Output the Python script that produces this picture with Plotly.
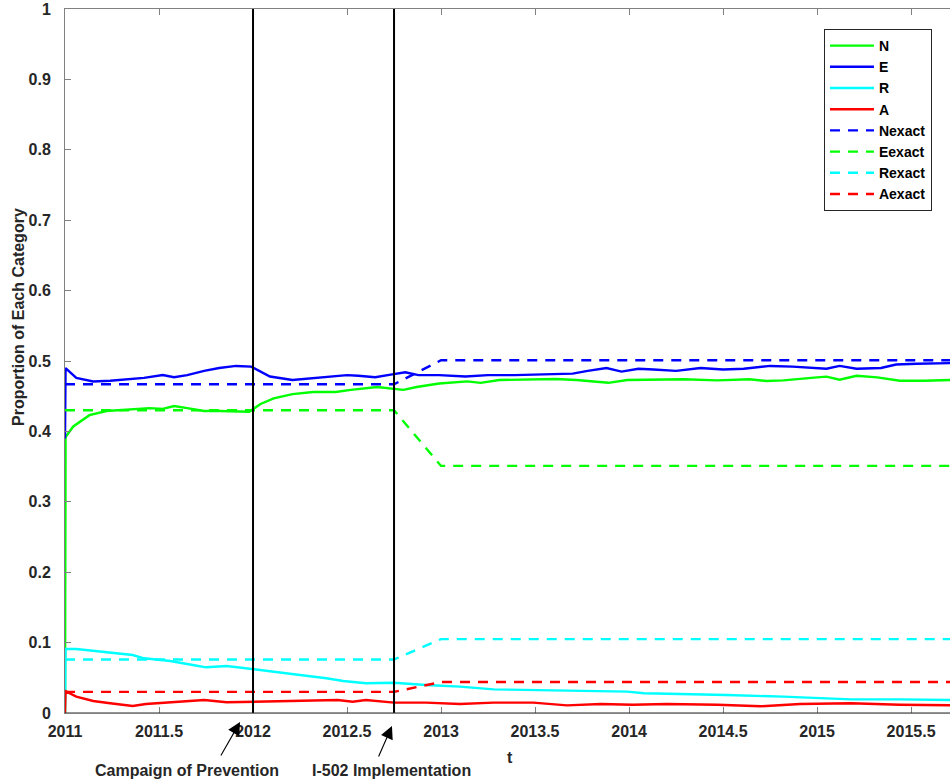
import plotly.graph_objects as go

# ---------------- data ----------------
t_N = [2011.0, 2011.003, 2011.044, 2011.13, 2011.22, 2011.33, 2011.45, 2011.52, 2011.58, 2011.65,
       2011.74, 2011.82, 2011.91, 2011.98, 2012.04, 2012.11, 2012.21, 2012.32, 2012.44, 2012.52,
       2012.66, 2012.75, 2012.80, 2012.87, 2012.99, 2013.14, 2013.21, 2013.31, 2013.49, 2013.61,
       2013.72, 2013.80, 2013.89, 2013.99, 2014.29, 2014.47, 2014.64, 2014.73, 2014.82, 2015.0,
       2015.05, 2015.12, 2015.21, 2015.32, 2015.44, 2015.57, 2015.71]
N_sim = [0.0, 0.392, 0.407, 0.423, 0.429, 0.431, 0.433, 0.432, 0.436, 0.433,
         0.429, 0.429, 0.428, 0.428, 0.439, 0.447, 0.453, 0.456, 0.456, 0.459,
         0.463, 0.461, 0.459, 0.463, 0.468, 0.471, 0.469, 0.473, 0.474, 0.4745,
         0.473, 0.471, 0.469, 0.473, 0.474, 0.4725, 0.474, 0.4716, 0.4725, 0.4768,
         0.4778, 0.4735, 0.479, 0.4768, 0.472, 0.472, 0.473]

t_E = [2011.0, 2011.003, 2011.06, 2011.15, 2011.24, 2011.33, 2011.42, 2011.52, 2011.58, 2011.65,
       2011.74, 2011.82, 2011.91, 2011.99, 2012.04, 2012.09, 2012.21, 2012.30, 2012.39, 2012.50,
       2012.56, 2012.65, 2012.74, 2012.81, 2012.88, 2012.99, 2013.13, 2013.25, 2013.39, 2013.54,
       2013.70, 2013.78, 2013.88, 2013.96, 2014.05, 2014.13, 2014.25, 2014.38, 2014.50, 2014.61,
       2014.75, 2014.87, 2015.05, 2015.12, 2015.21, 2015.34, 2015.42, 2015.53, 2015.71]
E_sim = [0.39, 0.490, 0.476, 0.471, 0.472, 0.474, 0.476, 0.480, 0.477, 0.480,
         0.486, 0.490, 0.493, 0.492, 0.485, 0.478, 0.473, 0.475, 0.477, 0.480,
         0.479, 0.477, 0.481, 0.484, 0.480, 0.480, 0.478, 0.480, 0.480, 0.481,
         0.482, 0.486, 0.490, 0.485, 0.489, 0.488, 0.486, 0.490, 0.488, 0.489,
         0.493, 0.492, 0.489, 0.493, 0.489, 0.490, 0.495, 0.496, 0.497]

t_R = [2011.0, 2011.003, 2011.06, 2011.15, 2011.24, 2011.36, 2011.42, 2011.56, 2011.68, 2011.75,
       2011.86, 2012.0, 2012.13, 2012.25, 2012.39, 2012.48, 2012.60, 2012.75, 2012.92, 2013.10,
       2013.28, 2013.49, 2013.67, 2013.85, 2013.99, 2014.08, 2014.29, 2014.52, 2014.82, 2015.0,
       2015.18, 2015.44, 2015.71]
R_sim = [0.0, 0.091, 0.091, 0.0885, 0.0857, 0.0824, 0.0777, 0.0739, 0.0682, 0.0649,
         0.0668, 0.0625, 0.0587, 0.054, 0.0493, 0.0455, 0.0422, 0.043, 0.0398, 0.0374,
         0.0336, 0.0327, 0.0327, 0.0313, 0.0303, 0.028, 0.027, 0.0256, 0.0232, 0.0209,
         0.0194, 0.0194, 0.0185]

t_A = [2011.0, 2011.003, 2011.06, 2011.15, 2011.24, 2011.36, 2011.43, 2011.56, 2011.74, 2011.86,
       2012.0, 2012.21, 2012.45, 2012.53, 2012.60, 2012.75, 2012.92, 2013.10, 2013.28, 2013.49,
       2013.67, 2013.85, 2014.02, 2014.20, 2014.47, 2014.70, 2014.91, 2015.18, 2015.44, 2015.71]
A_sim = [0.0, 0.031, 0.0232, 0.017, 0.0138, 0.010, 0.0128, 0.0152, 0.0185, 0.0152,
         0.016, 0.017, 0.0185, 0.016, 0.0185, 0.0147, 0.0147, 0.0128, 0.0147, 0.0147,
         0.0109, 0.0128, 0.0118, 0.0128, 0.0118, 0.0095, 0.0128, 0.0138, 0.0118, 0.0109]

t_exact = [2011.0, 2012.75, 2013.0, 2015.71]
N_exact = [0.467, 0.467, 0.501, 0.501]
E_exact = [0.430, 0.430, 0.351, 0.351]
R_exact = [0.076, 0.076, 0.105, 0.105]
A_exact = [0.030, 0.030, 0.044, 0.044]

event_times = [2012.0, 2012.75]
event_labels = ["Campaign of Prevention", "I-502 Implementation"]

x_ticks = [2011, 2011.5, 2012, 2012.5, 2013, 2013.5, 2014, 2014.5, 2015, 2015.5]
x_ticklabels = ["2011", "2011.5", "2012", "2012.5", "2013", "2013.5", "2014", "2014.5", "2015", "2015.5"]
y_ticks = [0, 0.1, 0.2, 0.3, 0.4, 0.5, 0.6, 0.7, 0.8, 0.9, 1]
y_ticklabels = ["0", "0.1", "0.2", "0.3", "0.4", "0.5", "0.6", "0.7", "0.8", "0.9", "1"]

# ---------------- figure ----------------
GREEN, BLUE, CYAN, RED = "#00FF00", "#0000FF", "#00FFFF", "#FF0000"
FONT = "Liberation Sans, Arial, Helvetica, sans-serif"
TXT = "#262626"
BFONT = dict(family=FONT, size=16, color=TXT, weight="bold")

fig = go.Figure()
solid = [("N", t_N, N_sim, GREEN), ("E", t_E, E_sim, BLUE),
         ("R", t_R, R_sim, CYAN), ("A", t_A, A_sim, RED)]
for name, tx, vy, col in solid:
    fig.add_trace(go.Scatter(x=tx, y=vy, mode="lines", name=name,
                             line=dict(color=col, width=2.4)))
dashed = [("Nexact", N_exact, BLUE), ("Eexact", E_exact, GREEN),
          ("Rexact", R_exact, CYAN), ("Aexact", A_exact, RED)]
for name, vy, col in dashed:
    fig.add_trace(go.Scatter(x=t_exact, y=vy, mode="lines", name=name,
                             line=dict(color=col, width=2.4, dash="10px,8px")))

for tv in event_times:
    fig.add_shape(type="line", xref="x", yref="y", x0=tv, x1=tv, y0=0, y1=1,
                  line=dict(color="black", width=2), layer="above")
# darker bottom axis line
fig.add_shape(type="line", xref="paper", yref="y", x0=0, x1=1, y0=0, y1=0,
              line=dict(color="#262626", width=1), layer="above")

# arrows (head position, tail pixel offset) and labels for the events
arrow_specs = [
    (event_times[0] - 0.069, -0.0128, -20, 35, 2011.649),
    (event_times[1] - 0.011, -0.0185, -14, 32, 2012.739),
]
for (hx, hy, axp, ayp, lx), lab in zip(arrow_specs, event_labels):
    fig.add_annotation(x=hx, y=hy, ax=axp, ay=ayp, xref="x", yref="paper",
                       axref="pixel", ayref="pixel",
                       text="", showarrow=True, arrowhead=2, arrowsize=2.3, arrowwidth=1.1,
                       arrowcolor="black")
    fig.add_annotation(x=lx, y=-0.081, xref="x", yref="paper", text=lab, showarrow=False,
                       font=BFONT, xanchor="center", yanchor="middle")

fig.add_annotation(x=2013.367, y=-0.0625, xref="x", yref="paper", text="t", showarrow=False,
                   font=BFONT, xanchor="center", yanchor="middle")
fig.add_annotation(x=-0.0531, y=0.5625, xref="paper", yref="paper", text="Proportion of Each Category",
                   showarrow=False, textangle=-90, font=BFONT,
                   xanchor="center", yanchor="middle")

fig.update_layout(
    width=950, height=784,
    margin=dict(l=65, r=0, t=9, b=71, autoexpand=False),
    paper_bgcolor="white", plot_bgcolor="white",
    font=dict(family=FONT, size=16, color=TXT),
    showlegend=True,
    legend=dict(x=0.8576, y=0.9716, xanchor="left", yanchor="top",
                bgcolor="white", bordercolor="#262626", borderwidth=1,
                font=dict(family=FONT, size=14, color="black", weight="bold"),
                tracegroupgap=0, itemwidth=44),
    xaxis=dict(range=[2011, 2015.707], tickmode="array", tickvals=x_ticks, ticktext=x_ticklabels,
               ticks="inside", ticklen=6, tickcolor="#808080", showline=True, linecolor="#808080",
               linewidth=1, mirror="ticks", showgrid=False, zeroline=False,
               ticklabelstandoff=4, tickfont=BFONT),
    yaxis=dict(range=[0, 1], tickmode="array", tickvals=y_ticks, ticktext=y_ticklabels,
               ticks="inside", ticklen=6, tickcolor="#808080", showline=True, linecolor="#808080",
               linewidth=1, showgrid=False, zeroline=False,
               ticklabelstandoff=10, tickfont=BFONT),
)

fig.write_html("out.html", config={"displayModeBar": False},
               post_script="document.body.style.margin='0px';document.body.style.padding='0px';"
                           "document.body.style.overflow='hidden';")
